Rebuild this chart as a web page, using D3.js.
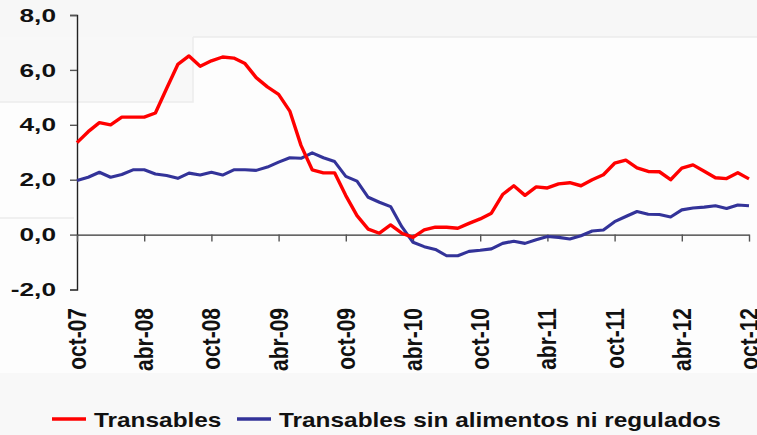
<!DOCTYPE html>
<html>
<head>
<meta charset="utf-8">
<script src="https://cdn.jsdelivr.net/npm/d3@7"></script>
<style>
  html, body { margin: 0; padding: 0; background: #fdfdfd; }
  svg { display: block; font-family: "Liberation Sans", Arial, sans-serif; }
</style>
</head>
<body>
<div id="chart"></div>
<script>
// Etiquetas del eje X (cada 6 meses, de oct-07 a oct-12)
const tickLabels = ["oct-07", "abr-08", "oct-08", "abr-09", "oct-09", "abr-10",
    "oct-10", "abr-11", "oct-11", "abr-12", "oct-12"];

// Series mensuales (61 meses)
const transables = [
    3.35, 3.75, 4.08, 4.0, 4.28, 4.28, 4.28, 4.43, 5.32, 6.2,
    6.51, 6.13, 6.33, 6.47, 6.43, 6.23, 5.72, 5.38, 5.11, 4.5,
    3.25, 2.36, 2.25, 2.25, 1.42, 0.69, 0.2, 0.05, 0.35, 0.05,
    -0.1, 0.17, 0.27, 0.27, 0.23, 0.41, 0.57, 0.78, 1.46, 1.78,
    1.43, 1.74, 1.7, 1.85, 1.89, 1.78, 2.0, 2.18, 2.6, 2.71,
    2.43, 2.3, 2.29, 2.0, 2.42, 2.54, 2.31, 2.07, 2.04, 2.25,
    2.03
];
const sinAlimentos = [
    1.97, 2.09, 2.27, 2.09, 2.19, 2.36, 2.36, 2.21, 2.15, 2.05,
    2.24, 2.17, 2.27, 2.17, 2.36, 2.36, 2.34, 2.46, 2.64, 2.8,
    2.78, 2.98, 2.8, 2.66, 2.12, 1.95, 1.36, 1.18, 1.02, 0.29,
    -0.28, -0.44, -0.54, -0.77, -0.77, -0.61, -0.57, -0.52, -0.32, -0.24,
    -0.32, -0.19, -0.07, -0.1, -0.16, -0.04, 0.13, 0.17, 0.47, 0.66,
    0.84, 0.74, 0.73, 0.64, 0.9, 0.97, 1.0, 1.05, 0.95, 1.08,
    1.05
];
const yTicks = [-2, 0, 2, 4, 6, 8];

const seriesNames = ["Transables", "Transables sin alimentos ni regulados"];
const seriesColors = ["#ff0000", "#333399"];

const W = 757, H = 435;
const svg = d3.select("#chart").append("svg")
    .attr("width", W).attr("height", H);

// fondo con los recuadros tenues de la captura original
const bg = svg.append("g");
bg.append("rect").attr("width", W).attr("height", H).attr("fill", "#fdfdfd");
bg.append("rect").attr("width", W).attr("height", 37).attr("fill", "#f7f7f7");
bg.append("rect").attr("y", 37).attr("width", 193).attr("height", 65).attr("fill", "#f8f8f8");
bg.append("rect").attr("y", 373).attr("width", W).attr("height", H - 373).attr("fill", "#f8f8f8");
bg.append("path")
    .attr("d", "M193,37H757M193,37V102H0M0,218H74")
    .attr("fill", "none").attr("stroke", "#ececec").attr("stroke-width", 1.5);

const x = d3.scaleLinear().domain([0, transables.length - 1]).range([77, 749]);
const y = d3.scaleLinear().domain([-2, 8]).range([289.5, 15]);

// formato con coma decimal y guion normal como signo menos
const locale = d3.formatLocale({ decimal: ",", thousands: ".", grouping: [3], currency: ["", ""], minus: "-" });
const fmt = locale.format(".1f");

// Eje Y
const yAxis = svg.append("g")
    .attr("transform", "translate(77,0)")
    .call(d3.axisLeft(y).tickValues(yTicks).tickSize(7).tickFormat(""));
yAxis.select(".domain").attr("stroke", "#222").attr("stroke-width", 1.4);
yAxis.selectAll(".tick line").attr("stroke", "#555").attr("stroke-width", 1.4);

svg.append("g").selectAll("text")
    .data(yTicks)
    .join("text")
    .attr("transform", (d) => `translate(56,${y(d)}) scale(1.42,1)`)
    .attr("dy", "0.36em")
    .attr("text-anchor", "end")
    .attr("font-size", 18.5)
    .attr("font-weight", "bold")
    .attr("fill", "#111")
    .text((d) => fmt(d));

// Eje X en el cero
const tickIdx = tickLabels.map((_, i) => i * 6);
const xAxis = svg.append("g")
    .attr("transform", `translate(0,${y(0)})`)
    .call(d3.axisBottom(x).tickValues(tickIdx).tickSize(7).tickSizeOuter(0).tickFormat(""));
xAxis.select(".domain").attr("stroke", "#333").attr("stroke-width", 1.4);
xAxis.selectAll(".tick line").attr("stroke", "#555").attr("stroke-width", 1.4);

svg.append("g").selectAll("text")
    .data(tickIdx)
    .join("text")
    .attr("transform", (d) => `translate(${x(d)},308) scale(1.2,1) rotate(-90)`)
    .attr("dy", "0.36em")
    .attr("text-anchor", "end")
    .attr("font-size", 21)
    .attr("font-weight", "bold")
    .attr("fill", "#111")
    .text((d, i) => tickLabels[i]);

// Lineas
const line = d3.line().x((d, i) => x(i)).y((d) => y(d));
const series = [transables, sinAlimentos];
svg.append("g").selectAll("path")
    .data([1, 0])
    .join("path")
    .attr("d", (k) => line(series[k]))
    .attr("fill", "none")
    .attr("stroke", (k) => seriesColors[k])
    .attr("stroke-width", (k) => (k == 0 ? 3.4 : 3.1))
    .attr("stroke-linejoin", "round");

// Leyenda
const legendX = [52, 237];
const legend = svg.append("g").selectAll("g")
    .data(seriesNames)
    .join("g")
    .attr("transform", (d, i) => `translate(${legendX[i]},419)`);
legend.append("line")
    .attr("x1", 0).attr("x2", 34)
    .attr("stroke", (d, i) => seriesColors[i])
    .attr("stroke-width", 3.4);
legend.append("text")
    .attr("transform", "translate(42,8) scale(1.22,1)")
    .attr("font-size", 20)
    .attr("font-weight", "bold")
    .attr("fill", "#111")
    .text((d) => d);
</script>
</body>
</html>
